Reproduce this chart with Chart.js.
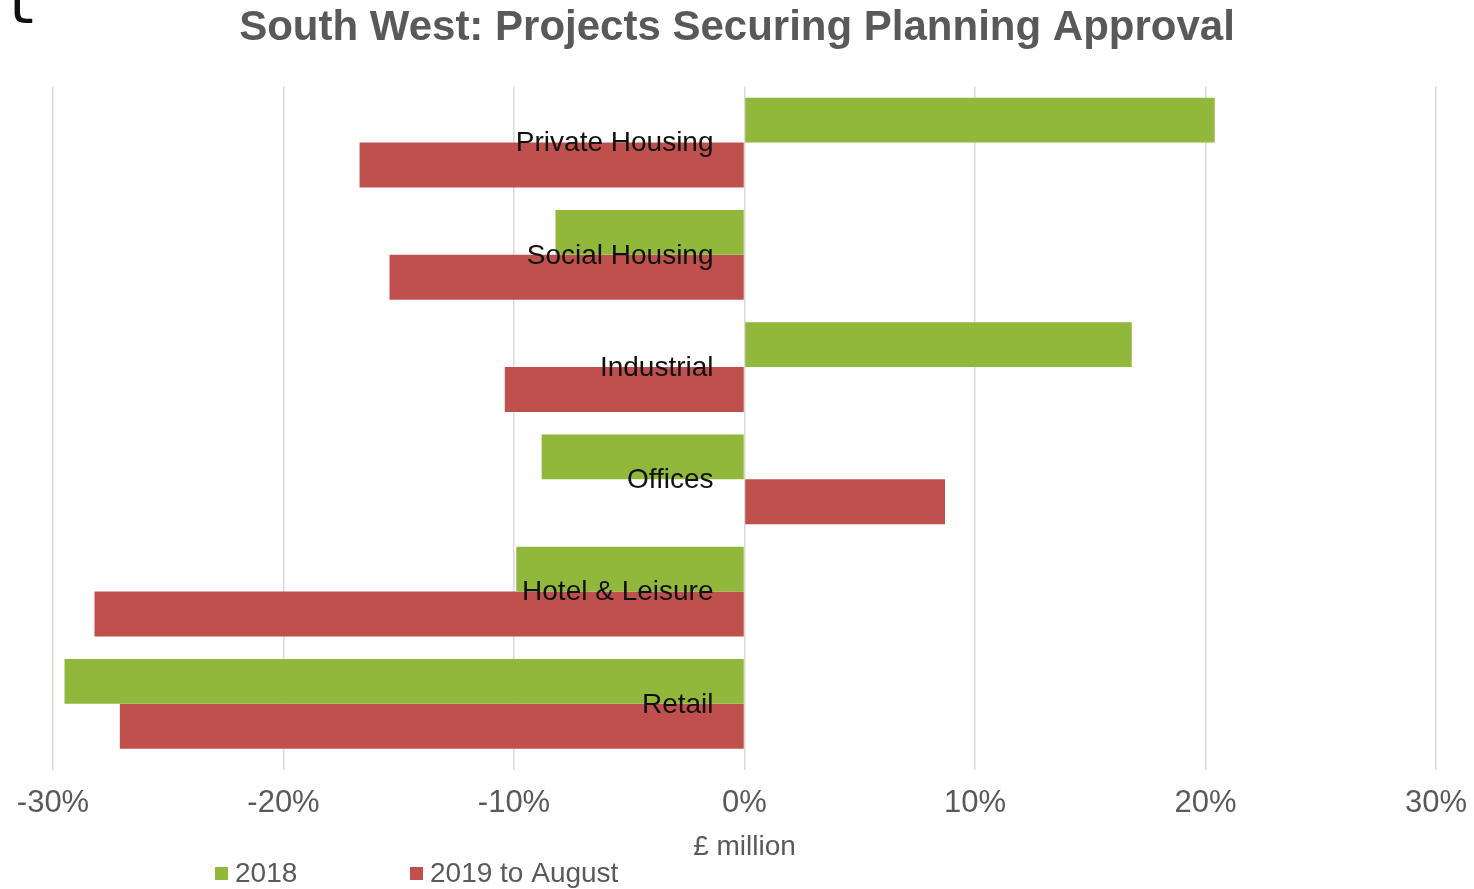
<!DOCTYPE html>
<html>
<head>
<meta charset="utf-8">
<script src="https://cdn.jsdelivr.net/npm/chart.js@4"></script>
<style>
  html, body { margin: 0; padding: 0; background: #fff; }
  #wrap { position: relative; width: 1474px; height: 889px; overflow: hidden; }
  #frag { position: absolute; left: 2px; top: -28px; font-family: "DejaVu Sans Mono", monospace; font-size: 60px; color: #111; line-height: 1; }
</style>
</head>
<body>
<div id="wrap">
  <canvas id="c" width="1474" height="889"></canvas>
  <div id="frag">t</div>
</div>
<script>
const categories = ["Private Housing", "Social Housing", "Industrial", "Offices", "Hotel & Leisure", "Retail"];
const seriesNames = ["2018", "2019 to August"];
const values2018 = [20.4, -8.2, 16.8, -8.8, -9.9, -29.5];
const values2019 = [-16.7, -15.4, -10.4, 8.7, -28.2, -27.1];
const colors = ["#92b83b", "#c0504d"];
const xTicks = [-30, -20, -10, 0, 10, 20, 30];
const chartTitle = "South West: Projects Securing Planning Approval";
const axisTitle = "£ million";

const FONT = "'Liberation Sans', Arial, sans-serif";

const categoryLabelPlugin = {
  id: 'categoryLabels',
  afterDatasetsDraw(chart) {
    const ctx = chart.ctx;
    const xs = chart.scales.x, ys = chart.scales.y;
    const x0 = xs.getPixelForValue(0) - 31;
    ctx.save();
    ctx.font = "28px " + FONT;
    ctx.fillStyle = "#111111";
    ctx.textAlign = "right";
    ctx.textBaseline = "middle";
    chart.data.labels.forEach((lab, i) => {
      ctx.fillText(lab, x0, ys.getPixelForValue(i) + 1);
    });
    ctx.restore();
  }
};

const legendPlugin = {
  id: 'customLegend',
  afterDraw(chart) {
    const ctx = chart.ctx;
    const starts = [215, 410];
    const y = 873;
    ctx.save();
    ctx.font = "28px " + FONT;
    ctx.textBaseline = "middle";
    ctx.textAlign = "left";
    chart.data.datasets.forEach((ds, i) => {
      ctx.fillStyle = ds.backgroundColor;
      ctx.fillRect(starts[i], y - 6, 13, 13);
      ctx.fillStyle = "#595959";
      ctx.fillText(ds.label, starts[i] + 20, y + 1);
    });
    ctx.restore();
  }
};

new Chart(document.getElementById('c'), {
  type: 'bar',
  data: {
    labels: categories,
    datasets: [
      { label: seriesNames[0], data: values2018, backgroundColor: colors[0], barPercentage: 1, categoryPercentage: 0.8 },
      { label: seriesNames[1], data: values2019, backgroundColor: colors[1], barPercentage: 1, categoryPercentage: 0.8 }
    ]
  },
  options: {
    indexAxis: 'y',
    responsive: false,
    animation: false,
    layout: { padding: { left: 0, right: 0, top: 0, bottom: 0 } },
    plugins: {
      legend: { display: false },
      tooltip: { enabled: false },
      title: {
        display: true,
        text: chartTitle,
        color: "#595959",
        font: { family: FONT, size: 42, weight: 'bold' },
        padding: { top: 3, bottom: 33 }
      }
    },
    scales: {
      x: {
        min: -30, max: 30,
        afterBuildTicks(scale) { scale.ticks = xTicks.map(v => ({ value: v })); },
        afterFit(scale) { scale.height = 129; scale.paddingLeft = 53; scale.paddingRight = 38; },
        grid: { color: "#d9d9d9", lineWidth: 1.5, tickLength: 10, drawTicks: true },
        border: { display: false },
        ticks: {
          color: "#595959",
          font: { family: FONT, size: 31 },
          padding: 15,
          maxRotation: 0,
          callback: v => v + "%"
        },
        title: {
          display: true,
          text: axisTitle,
          color: "#595959",
          font: { family: FONT, size: 28 },
          padding: { top: 0, bottom: 25 }
        }
      },
      y: {
        display: false
      }
    }
  },
  plugins: [categoryLabelPlugin, legendPlugin]
});
</script>
</body>
</html>
